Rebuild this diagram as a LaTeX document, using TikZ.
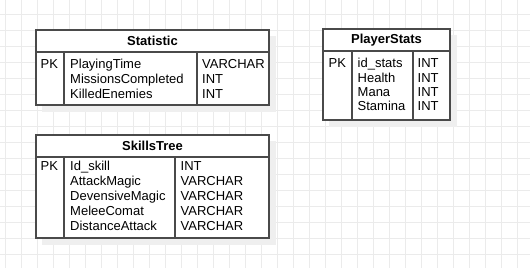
\documentclass[tikz,border=0pt]{standalone}
\usepackage{fontspec}
\setmainfont{Liberation Sans}
\definecolor{edgegray}{HTML}{4A4A4A}
\definecolor{gridgray}{HTML}{EBEBEB}
\definecolor{shadowgray}{HTML}{EFEFEF}
\begin{document}
\begin{tikzpicture}[x=1pt,y=-1pt,
  frame/.style={draw=edgegray,line width=1.3pt},
  rule/.style={draw=edgegray,line width=1.1pt},
  boxshadow/.style={fill=shadowgray},
  gridline/.style={draw=gridgray,line width=0.9pt},
  cell/.style={anchor=base west,inner sep=0pt,text=black,font=\fontsize{13}{15}\selectfont},
  tabletitle/.style={anchor=center,inner sep=0pt,text=black,font=\fontsize{13}{15}\selectfont\bfseries}]
\useasboundingbox (0,0) rectangle (530,268);
\fill[white] (0,0) rectangle (530,268);

% background grid
\foreach \gx in {5,21,...,517} \draw[gridline] (\gx,0) -- (\gx,268);
\foreach \gy in {14,30,...,254} \draw[gridline] (0,\gy) -- (530,\gy);

% drop shadows
\fill[boxshadow] (42,36) rectangle (276,112);
\fill[boxshadow] (329,35) rectangle (457,127);
\fill[boxshadow] (42,141) rectangle (276,245);

% ---- Statistic ----
\fill[white] (36,30) rectangle (269,105);
\draw[rule] (36,52) -- (269,52);
\draw[rule] (64,52) -- (64,105);
\draw[rule] (197,52) -- (197,105);
\draw[frame] (36,30) rectangle (269,105);
\node[tabletitle] (stat-title) at (152.5,41) {Statistic};
\node[cell] (stat-pk) at (40.5,68.3) {PK};
\foreach \fname/\ftype [count=\i] in {PlayingTime/VARCHAR,MissionsCompleted/INT,KilledEnemies/INT} {
  \node[cell] (stat-name-\i) at (70,68.3+15*\i-15) {\fname};
  \node[cell] (stat-type-\i) at (202,68.3+15*\i-15) {\ftype};
}

% ---- PlayerStats ----
\fill[white] (323,29) rectangle (450,120);
\draw[rule] (323,51) -- (450,51);
\draw[rule] (352,51) -- (352,120);
\draw[rule] (413,51) -- (413,120);
\draw[frame] (323,29) rectangle (450,120);
\node[tabletitle] (ps-title) at (386.5,40) {PlayerStats};
\node[cell] (ps-pk) at (328.5,67.7) {PK};
\foreach \fname/\ftype [count=\i] in {id\_stats/INT,Health/INT,Mana/INT,Stamina/INT} {
  \node[cell] (ps-name-\i) at (357.5,67.7+14.3*\i-14.3) {\fname};
  \node[cell] (ps-type-\i) at (417.5,67.7+14.3*\i-14.3) {\ftype};
}

% ---- SkillsTree ----
\fill[white] (36,135) rectangle (269,238);
\draw[rule] (36,157) -- (269,157);
\draw[rule] (64,157) -- (64,238);
\draw[rule] (175,157) -- (175,238);
\draw[frame] (36,135) rectangle (269,238);
\node[tabletitle] (sk-title) at (152.5,146) {SkillsTree};
\node[cell] (sk-pk) at (40.5,170) {PK};
\foreach \fname/\ftype [count=\i] in {Id\_skill/INT,AttackMagic/VARCHAR,DevensiveMagic/VARCHAR,MeleeComat/VARCHAR,DistanceAttack/VARCHAR} {
  \node[cell] (sk-name-\i) at (70,170+15*\i-15) {\fname};
  \node[cell] (sk-type-\i) at (180.5,170+15*\i-15) {\ftype};
}
\end{tikzpicture}
\end{document}
